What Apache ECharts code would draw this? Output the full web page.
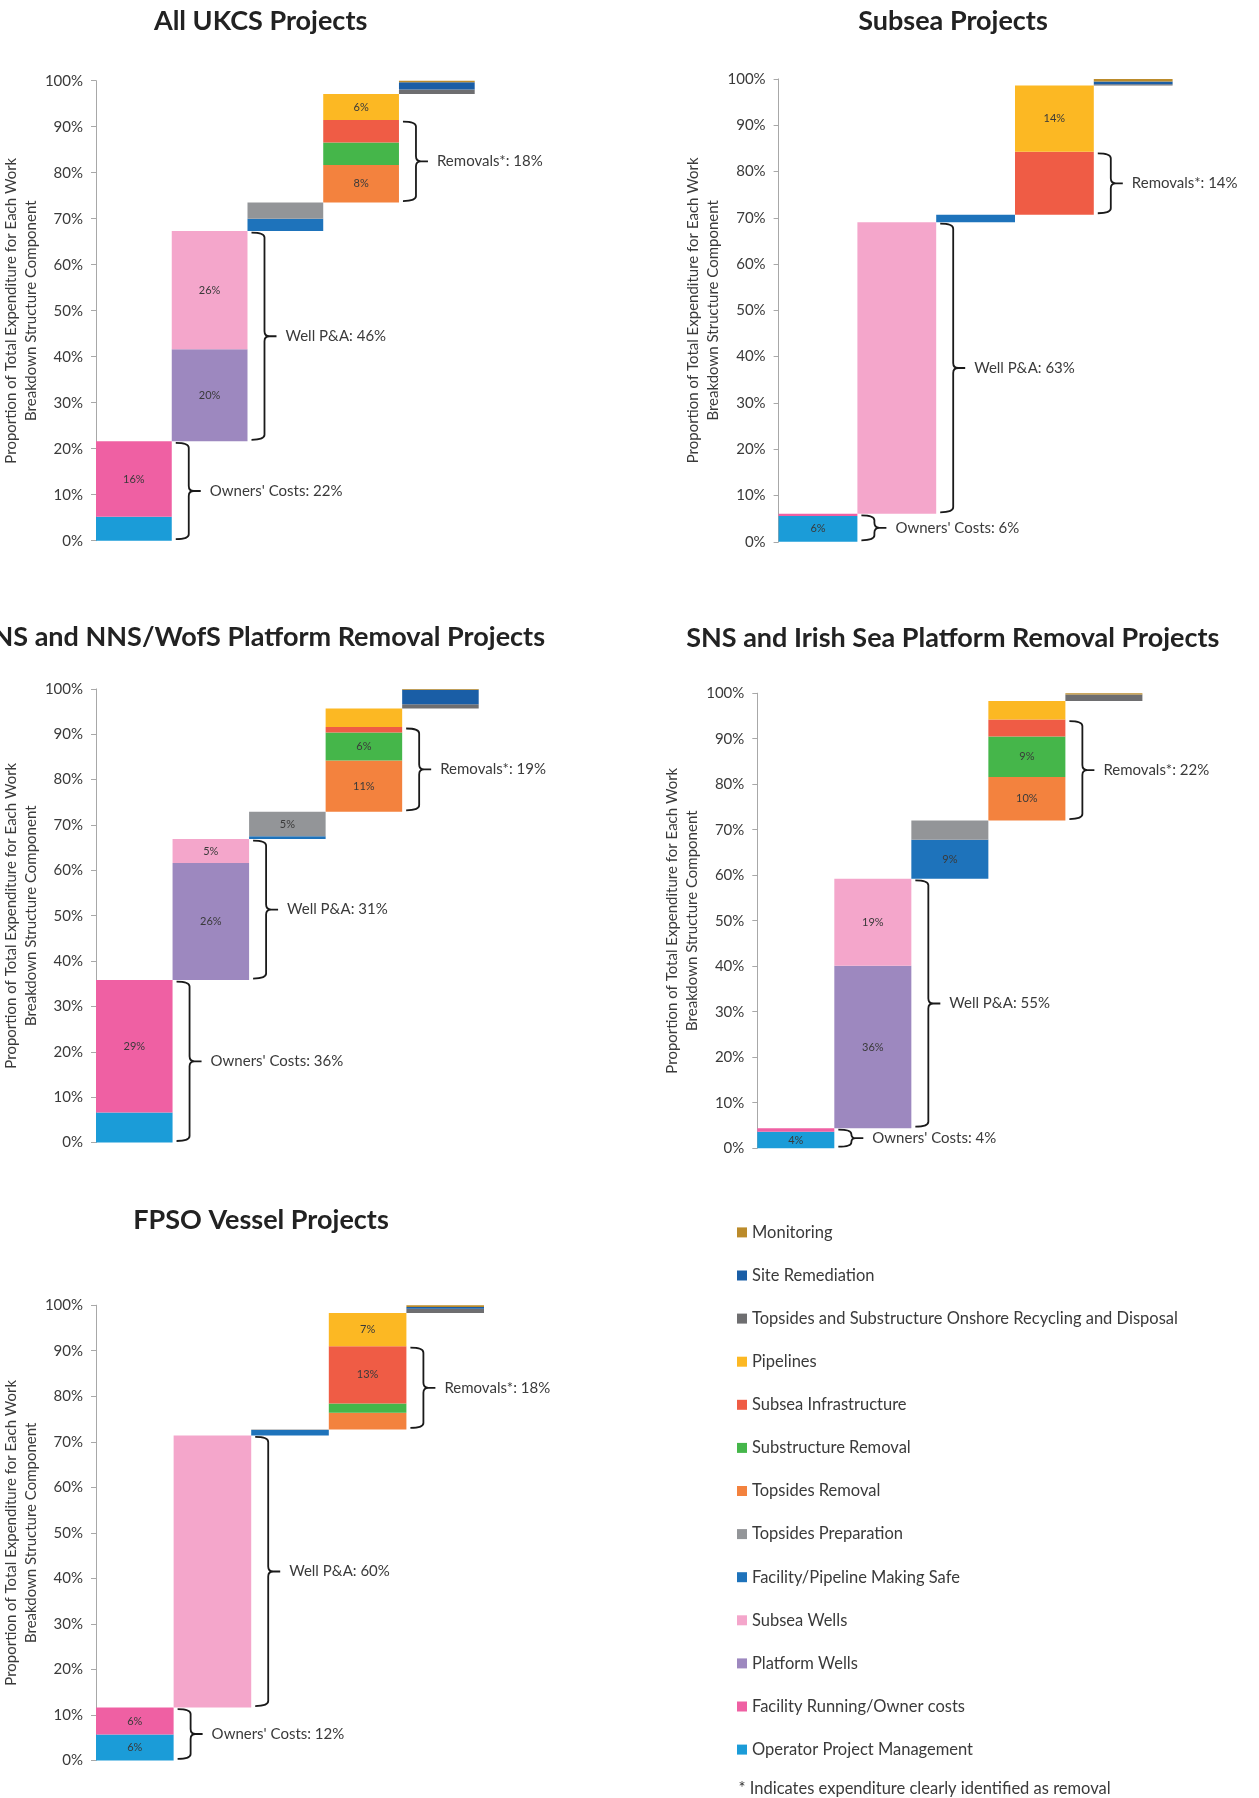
<!DOCTYPE html>
<html>
<head>
<meta charset="utf-8">
<script src="https://cdn.jsdelivr.net/npm/echarts@6/dist/echarts.min.js"></script>
<style>
  html, body { margin: 0; padding: 0; background: #ffffff; }
  #chart { width: 1259px; height: 1798px; }
</style>
</head>
<body>
<div id="chart"></div>
<script>
// Work breakdown structure components, listed bottom-to-top of the waterfall
const components = [
  'Operator Project Management',
  'Facility Running/Owner costs',
  'Platform Wells',
  'Subsea Wells',
  'Facility/Pipeline Making Safe',
  'Topsides Preparation',
  'Topsides Removal',
  'Substructure Removal',
  'Subsea Infrastructure',
  'Pipelines',
  'Topsides and Substructure Onshore Recycling and Disposal',
  'Site Remediation',
  'Monitoring'
];
// Step (column) of the waterfall that each component belongs to
const componentColumn = [0, 0, 1, 1, 2, 2, 3, 3, 3, 3, 4, 4, 4];
const componentColors = [
  '#1b9cd8', '#ef60a3', '#9d88bf', '#f4a6cb', '#1e73bb', '#939598',
  '#f3823e', '#45b64a', '#ef5c45', '#fcb823', '#6e6e70', '#1a5ea6', '#bb8b2b'
];

// Share of total expenditure (%) per component, in the order of `components`
const allUkcs  = [5.2, 16.4, 20.0, 25.7, 2.7, 3.5, 8.2, 4.85, 4.9, 5.65, 1.0, 1.55, 0.35];
const subsea   = [5.6, 0.45, 0.0, 63.0, 1.6, 0.0, 0.0, 0.0, 13.6, 14.3, 0.3, 0.6, 0.55];
const cnsNns   = [6.6, 29.2, 25.8, 5.3, 0.6, 5.4, 11.3, 6.2, 1.2, 4.1, 0.9, 3.2, 0.2];
const snsIrish = [3.6, 0.8, 35.7, 19.1, 8.6, 4.2, 9.6, 8.9, 3.7, 4.1, 1.4, 0.0, 0.3];
const fpso     = [5.7, 5.9, 0.0, 59.8, 1.2, 0.1, 3.7, 2.0, 12.6, 7.3, 0.9, 0.4, 0.4];

// Components whose percentage is printed inside the bar
const labelledAllUkcs  = [1, 2, 3, 6, 9];
const labelledSubsea   = [0, 9];
const labelledCnsNns   = [1, 2, 3, 5, 6, 7];
const labelledSnsIrish = [0, 2, 3, 4, 6, 7];
const labelledFpso     = [0, 1, 8, 9];

// Bracketed cost groups
const groupNames   = ["Owners' Costs", 'Well P&A', 'Removals*'];
const groupMembers = [[0, 1], [2, 3], [6, 7, 8]];

const titles = [
  'All UKCS Projects',
  'Subsea Projects',
  'CNS and NNS/WofS Platform Removal Projects',
  'SNS and Irish Sea Platform Removal Projects',
  'FPSO Vessel Projects'
];
const yTicks = [0, 10, 20, 30, 40, 50, 60, 70, 80, 90, 100];
const yAxisName = 'Proportion of Total Expenditure for Each Work\nBreakdown Structure Component';
const footnote = '* Indicates expenditure clearly identified as removal';

const panelValues = [allUkcs, subsea, cnsNns, snsIrish, fpso];
const panelLabelled = [labelledAllUkcs, labelledSubsea, labelledCnsNns, labelledSnsIrish, labelledFpso];

// Page layout of the five panels
const panelLayout = [
  { grid: { left: 95.6,  top: 80.7,  width: 379.1, height: 460.0 }, tx: 260.6, ty: 21.4,  align: 'center' },
  { grid: { left: 778.6, top: 78.9,  width: 394.0, height: 462.9 }, tx: 953.0, ty: 21.4,  align: 'center' },
  { grid: { left: 95.6,  top: 688.9, width: 383.1, height: 453.6 }, tx: 545.0, ty: 636.8, align: 'right' },
  { grid: { left: 757.3, top: 693.2, width: 385.1, height: 455.0 }, tx: 952.8, ty: 637.9, align: 'center' },
  { grid: { left: 90.4,  top: 1305.2, width: 393.6, height: 455.2 }, tx: 261.0, ty: 1220.0, align: 'center' }
];

const FONT = 'Lato';
const TEXT = '#3a3a3a';

const grids = [], xAxes = [], yAxes = [], series = [], graphics = [];

panelValues.forEach((values, pi) => {
  const layout = panelLayout[pi];
  grids.push(Object.assign({ containLabel: false }, layout.grid));

  xAxes.push({
    type: 'category', gridIndex: pi, data: ['0', '1', '2', '3', '4'], show: false
  });
  yAxes.push({
    type: 'value', gridIndex: pi, min: yTicks[0], max: yTicks[yTicks.length - 1], interval: yTicks[1] - yTicks[0],
    axisLine: { show: true, lineStyle: { color: '#a8a8a8', width: 1 } },
    axisTick: { show: true, length: 5, lineStyle: { color: '#a8a8a8' } },
    splitLine: { show: false },
    axisLabel: { formatter: '{value}%', color: TEXT, fontSize: 15, fontFamily: FONT, margin: 13 },
    name: yAxisName, nameLocation: 'middle', nameRotate: 90, nameGap: 47,
    nameTextStyle: { color: TEXT, fontSize: 15, fontFamily: FONT, lineHeight: 20, align: 'center' }
  });

  // Running base of each waterfall step
  const colTotals = [0, 0, 0, 0, 0];
  values.forEach((v, k) => { colTotals[componentColumn[k]] += v; });
  const base = [];
  let run = 0;
  colTotals.forEach((t, c) => { base.push(run); run += t; });

  series.push({
    type: 'bar', name: 'base', stack: 'p' + pi, xAxisIndex: pi, yAxisIndex: pi,
    data: base, silent: true, barCategoryGap: '0%',
    itemStyle: { color: 'rgba(0,0,0,0)' }, emphasis: { disabled: true }, label: { show: false }
  });

  components.forEach((name, k) => {
    const data = base.map((_, c) => c === componentColumn[k]
      ? { value: values[k], label: { show: panelLabelled[pi].includes(k) } }
      : 0);
    series.push({
      type: 'bar', name, stack: 'p' + pi, xAxisIndex: pi, yAxisIndex: pi,
      data, barCategoryGap: '0%',
      itemStyle: { color: componentColors[k] },
      emphasis: { disabled: true },
      label: {
        show: false, position: 'inside', color: TEXT, fontSize: 11, fontFamily: FONT,
        formatter: p => Math.round(p.value) + '%'
      }
    });
  });

  // Bracket extents: start at the first member's position in its column
  const bracketData = groupMembers.map(members => {
    const col = componentColumn[members[0]];
    let lo = base[col];
    values.forEach((v, k) => { if (componentColumn[k] === col && k < members[0]) lo += v; });
    const hi = lo + members.reduce((s, k) => s + values[k], 0);
    return [col, lo, hi];
  });

  series.push({
    type: 'custom', xAxisIndex: pi, yAxisIndex: pi, clip: false, silent: true, z: 5,
    data: bracketData,
    renderItem: (params, api) => {
      const col = api.value(0), lo = api.value(1), hi = api.value(2);
      const band = api.size([1, 0])[0];
      const right = api.coord([col, 0])[0] + band / 2;
      const t = api.coord([col, hi])[1] + 1.5;
      const b = api.coord([col, lo])[1] - 1.5;
      const m = (t + b) / 2;
      const x0 = right + 4, xv = right + 17, xt = right + 29;
      const r = Math.min(5, (b - t) / 4);
      const path =
        `M${x0},${t} Q${xv},${t} ${xv},${t + r} L${xv},${m - r} Q${xv},${m} ${xv + r},${m} L${xt},${m} ` +
        `M${xv + r},${m} Q${xv},${m} ${xv},${m + r} L${xv},${b - r} Q${xv},${b} ${x0},${b}`;
      const share = Math.round(hi - lo);
      return {
        type: 'group',
        children: [
          { type: 'path', shape: { pathData: path }, style: { fill: 'none', stroke: '#1a1a1a', lineWidth: 1.8 } },
          {
            type: 'text',
            style: {
              text: groupNames[params.dataIndex] + ': ' + share + '%',
              x: right + 38, y: m, textAlign: 'left', textVerticalAlign: 'middle',
              fill: TEXT, font: '15px ' + FONT
            }
          }
        ]
      };
    }
  });

  graphics.push({
    type: 'text', x: layout.tx, y: layout.ty,
    style: {
      text: titles[pi], textAlign: layout.align, textVerticalAlign: 'middle',
      fill: '#222222', font: 'bold 27px ' + FONT
    }
  });
});

graphics.push({
  type: 'text', x: 738.5, y: 1789,
  style: { text: footnote, textAlign: 'left', textVerticalAlign: 'middle', fill: TEXT, font: '16.5px ' + FONT }
});

const chart = echarts.init(document.getElementById('chart'), null, { renderer: 'canvas' });
chart.setOption({
  animation: false,
  backgroundColor: '#ffffff',
  grid: grids,
  xAxis: xAxes,
  yAxis: yAxes,
  series,
  graphic: graphics,
  legend: {
    orient: 'vertical', left: 732, top: 1218.4, padding: 5,
    itemWidth: 10, itemHeight: 10, itemGap: 25.1, icon: 'rect', selectedMode: false,
    data: components.slice().reverse(),
    textStyle: { color: TEXT, fontSize: 16.5, fontFamily: FONT, lineHeight: 18 }
  }
});
</script>
</body>
</html>
